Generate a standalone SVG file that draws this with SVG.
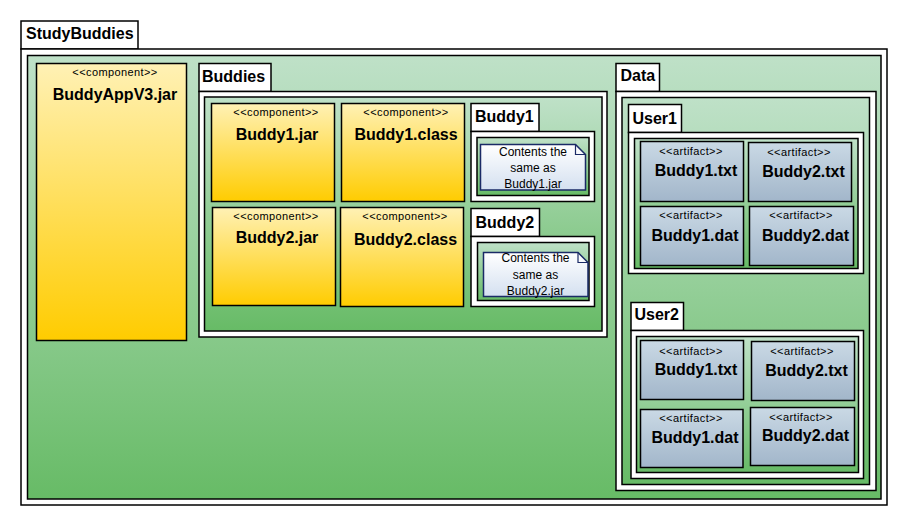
<svg xmlns="http://www.w3.org/2000/svg" width="909" height="525" viewBox="0 0 909 525">
<defs>
<linearGradient id="gGreen" x1="0" y1="0" x2="0" y2="1"><stop offset="0" stop-color="#bfe1c8"/><stop offset="1" stop-color="#67bb66"/></linearGradient>
<linearGradient id="gYellow" x1="0" y1="0" x2="0" y2="1"><stop offset="0" stop-color="#fff1b5"/><stop offset="1" stop-color="#ffcc00"/></linearGradient>
<linearGradient id="gBlue" x1="0" y1="0" x2="0" y2="1"><stop offset="0" stop-color="#cad9e5"/><stop offset="1" stop-color="#a2b6ca"/></linearGradient>
<linearGradient id="gNote" x1="0" y1="0" x2="0" y2="1"><stop offset="0" stop-color="#ffffff"/><stop offset="1" stop-color="#d4e0f0"/></linearGradient>
</defs>
<style>
.w{fill:#ffffff;stroke:#000;stroke-width:1.5}
.g{fill:url(#gGreen);stroke:#000;stroke-width:1.5}
.c{fill:url(#gYellow);stroke:#000;stroke-width:1.5}
.a{fill:url(#gBlue);stroke:#000;stroke-width:1.5}
.n{fill:url(#gNote);stroke:#1a2a66;stroke-width:1.5}
.nf{fill:none;stroke:#1a2a66;stroke-width:1.2}
text{font-family:"Liberation Sans",Arial,sans-serif;fill:#000}
.t{font-size:16px;font-weight:bold}
.s{font-size:11px;letter-spacing:0.4px;text-anchor:middle}
.m{font-size:16px;font-weight:bold;text-anchor:middle}
.nt{font-size:12px;text-anchor:middle}
</style>
<rect width="909" height="525" fill="#ffffff"/>
<g id="StudyBuddies">
<rect class="w" x="21" y="21" width="117" height="28"/>
<rect class="w" x="21" y="49" width="866" height="456"/>
<rect class="g" x="27.5" y="55.5" width="853.5" height="443.5"/>
<text class="t" x="26" y="39">StudyBuddies</text>
</g>
<g id="BuddyAppV3.jar">
<rect class="c" x="36.5" y="63.5" width="150" height="277"/>
<text class="s" x="115" y="76">&lt;&lt;component&gt;&gt;</text>
<text class="m" x="115" y="100">BuddyAppV3.jar</text>
</g>
<g id="Buddies">
<rect class="w" x="199" y="63.5" width="72" height="28"/>
<rect class="w" x="199" y="91.5" width="408" height="245.5"/>
<rect class="g" x="204.5" y="97" width="397.5" height="234"/>
<text class="t" x="202" y="82">Buddies</text>
</g>
<g id="Buddy1.jar">
<rect class="c" x="211.5" y="103.5" width="123" height="98"/>
<text class="s" x="276" y="115.5">&lt;&lt;component&gt;&gt;</text>
<text class="m" x="277" y="139.5">Buddy1.jar</text>
</g>
<g id="Buddy1.class">
<rect class="c" x="341.5" y="103.5" width="123" height="98"/>
<text class="s" x="406" y="115.5">&lt;&lt;component&gt;&gt;</text>
<text class="m" x="406" y="140">Buddy1.class</text>
</g>
<g id="Buddy2.jar">
<rect class="c" x="212.5" y="207.5" width="123" height="98"/>
<text class="s" x="276" y="220">&lt;&lt;component&gt;&gt;</text>
<text class="m" x="277" y="243">Buddy2.jar</text>
</g>
<g id="Buddy2.class">
<rect class="c" x="340.5" y="207.5" width="123" height="99"/>
<text class="s" x="405" y="220">&lt;&lt;component&gt;&gt;</text>
<text class="m" x="405.5" y="244.5">Buddy2.class</text>
</g>
<g id="Buddy1">
<rect class="w" x="471" y="103.5" width="68" height="28"/>
<rect class="w" x="471" y="131.5" width="123.5" height="70"/>
<rect class="g" x="477" y="137.5" width="112" height="58"/>
<text class="t" x="475" y="122">Buddy1</text>
</g>
<g id="note1">
<path class="n" d="M480.5,144.5 H575.5 L585.5,154.5 V190 H480.5 Z"/>
<path class="nf" d="M575.5,144.5 V154.5 H585.5"/>
<text class="nt" x="533" y="156">Contents the</text>
<text class="nt" x="533" y="172">same as</text>
<text class="nt" x="533" y="187.5">Buddy1.jar</text>
</g>
<g id="Buddy2">
<rect class="w" x="471" y="208.5" width="68.5" height="28"/>
<rect class="w" x="471" y="236.5" width="123.5" height="70"/>
<rect class="g" x="477.5" y="242.5" width="111.5" height="58"/>
<text class="t" x="475.5" y="227.5">Buddy2</text>
</g>
<g id="note2">
<path class="n" d="M483.5,252.5 H578 L588,262.5 V296.5 H483.5 Z"/>
<path class="nf" d="M578,252.5 V262.5 H588"/>
<text class="nt" x="535.5" y="262">Contents the</text>
<text class="nt" x="535.5" y="279">same as</text>
<text class="nt" x="535.5" y="295">Buddy2.jar</text>
</g>
<g id="Data">
<rect class="w" x="616" y="63.5" width="43.5" height="28"/>
<rect class="w" x="616" y="91.5" width="260" height="399"/>
<rect class="g" x="622" y="97.5" width="247.5" height="387"/>
<text class="t" x="620.5" y="81">Data</text>
</g>
<g id="User1">
<rect class="w" x="628.5" y="104.5" width="53" height="28"/>
<rect class="w" x="628.5" y="132.5" width="235" height="141"/>
<rect class="g" x="634.5" y="138.5" width="223.5" height="130"/>
<text class="t" x="632.5" y="123.5">User1</text>
</g>
<g id="U1-Buddy1.txt">
<rect class="a" x="640.5" y="141.5" width="103" height="60"/>
<text class="s" x="691" y="155">&lt;&lt;artifact&gt;&gt;</text>
<text class="m" x="696" y="176">Buddy1.txt</text>
</g>
<g id="U1-Buddy2.txt">
<rect class="a" x="748.5" y="142.5" width="103" height="59"/>
<text class="s" x="799" y="155.5">&lt;&lt;artifact&gt;&gt;</text>
<text class="m" x="803.5" y="177">Buddy2.txt</text>
</g>
<g id="U1-Buddy1.dat">
<rect class="a" x="640.5" y="206.5" width="103" height="59"/>
<text class="s" x="691" y="219">&lt;&lt;artifact&gt;&gt;</text>
<text class="m" x="695" y="241">Buddy1.dat</text>
</g>
<g id="U1-Buddy2.dat">
<rect class="a" x="749.5" y="206.5" width="104" height="59"/>
<text class="s" x="801" y="219">&lt;&lt;artifact&gt;&gt;</text>
<text class="m" x="805.5" y="241">Buddy2.dat</text>
</g>
<g id="User2">
<rect class="w" x="631" y="302.5" width="52.5" height="28"/>
<rect class="w" x="631" y="330.5" width="232.5" height="148"/>
<rect class="g" x="636.5" y="336.5" width="222" height="136"/>
<text class="t" x="634.5" y="320">User2</text>
</g>
<g id="U2-Buddy1.txt">
<rect class="a" x="640.5" y="340.5" width="103" height="59"/>
<text class="s" x="691" y="355">&lt;&lt;artifact&gt;&gt;</text>
<text class="m" x="696" y="375">Buddy1.txt</text>
</g>
<g id="U2-Buddy2.txt">
<rect class="a" x="751.5" y="341.5" width="103" height="59"/>
<text class="s" x="802" y="355">&lt;&lt;artifact&gt;&gt;</text>
<text class="m" x="806.5" y="376">Buddy2.txt</text>
</g>
<g id="U2-Buddy1.dat">
<rect class="a" x="640.5" y="409.5" width="102.5" height="58"/>
<text class="s" x="691" y="422">&lt;&lt;artifact&gt;&gt;</text>
<text class="m" x="695" y="443">Buddy1.dat</text>
</g>
<g id="U2-Buddy2.dat">
<rect class="a" x="750.5" y="407.5" width="104" height="58"/>
<text class="s" x="801" y="421">&lt;&lt;artifact&gt;&gt;</text>
<text class="m" x="805.5" y="441">Buddy2.dat</text>
</g>
<g id="connectors"/>
</svg>
